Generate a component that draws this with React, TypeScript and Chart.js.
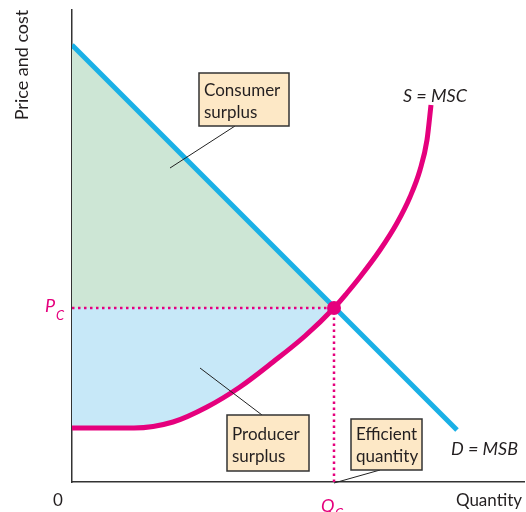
import React, { useEffect, useRef } from "react";
import { Chart, registerables } from "chart.js";

Chart.register(...registerables);

// Axis ranges (arbitrary units: quantity and price/cost)
const X_MAX = 452;
const Y_MAX = 472;

// Demand = marginal social benefit
const DEMAND_Q = [0, 385];
const DEMAND_P = [437, 52];

// Supply = marginal social cost
const SUPPLY_Q = [0, 62, 101, 135, 168, 201, 233, 262, 275, 288, 308, 325, 338, 348, 355, 359];
const SUPPLY_P = [54, 54, 60, 75, 95, 120, 146, 174, 189, 205, 232, 259, 285, 312, 342, 377];

// Equilibrium
const EQ_Q = 262;
const EQ_P = 174;

const MAGENTA = "#e5007d";
const CYAN = "#1ab0e6";
const TEXT = "#231f20";
const BOX_FILL = "#fde8c6";
const FONT = "Lato, 'Open Sans', sans-serif";

const pts = (xs: number[], ys: number[]) => xs.map((x, i) => ({ x, y: ys[i] }));

const supplyPts = pts(SUPPLY_Q, SUPPLY_P);
const demandPts = pts(DEMAND_Q, DEMAND_P);
const producerPts = supplyPts.filter((p) => p.x <= EQ_Q);
const consumerPts = demandPts
  .filter((p) => p.x <= EQ_Q)
  .concat([{ x: EQ_Q, y: EQ_P }]);

const annotate = {
  id: "annotate",
  afterDraw(chart: any) {
    const ctx = chart.ctx as CanvasRenderingContext2D;
    const xs = chart.scales.x;
    const ys = chart.scales.y;
    ctx.save();
    ctx.textBaseline = "alphabetic";

    const box = (x0: number, y0: number, x1: number, y1: number, lines: string[], tx: number, bases: number[]) => {
      ctx.fillStyle = BOX_FILL;
      ctx.fillRect(x0, y0, x1 - x0, y1 - y0);
      ctx.strokeStyle = "#333";
      ctx.lineWidth = 1.5;
      ctx.strokeRect(x0, y0, x1 - x0, y1 - y0);
      ctx.fillStyle = TEXT;
      ctx.font = `17px ${FONT}`;
      ctx.textAlign = "left";
      lines.forEach((l, i) => ctx.fillText(l, tx, bases[i]));
    };
    const leader = (a: number, b: number, c: number, d: number) => {
      ctx.strokeStyle = "#222";
      ctx.lineWidth = 1;
      ctx.beginPath();
      ctx.moveTo(a, b);
      ctx.lineTo(c, d);
      ctx.stroke();
    };

    leader(235, 126, 170, 168);
    leader(262, 415, 200, 368);
    leader(380, 470, 334, 483);
    box(199, 73, 289, 126, ["Consumer", "surplus"], 204, [96, 118]);
    box(227, 415, 309, 471, ["Producer", "surplus"], 232, [440, 462]);
    box(351, 419, 422, 470, ["Efficient", "quantity"], 356, [440, 462]);

    // Axis titles
    ctx.fillStyle = TEXT;
    ctx.font = `18px ${FONT}`;
    ctx.save();
    ctx.translate(28, 65);
    ctx.rotate(-Math.PI / 2);
    ctx.textAlign = "center";
    ctx.fillText("Price and cost", 0, 0);
    ctx.restore();

    ctx.textAlign = "center";
    ctx.font = `17px ${FONT}`;
    ctx.fillText("0", 58, 506);
    ctx.textAlign = "right";
    ctx.fillText("Quantity", 522, 506);

    // Curve labels
    ctx.textAlign = "left";
    ctx.font = `italic 18px ${FONT}`;
    ctx.fillText("S = MSC", 403, 102);
    ctx.fillText("D = MSB", 451, 455);

    // P_C and Q_C
    ctx.fillStyle = MAGENTA;
    const py = ys.getPixelForValue(EQ_P);
    ctx.font = `italic 18px ${FONT}`;
    ctx.fillText("P", 45, py + 4);
    ctx.font = `italic 13px ${FONT}`;
    ctx.fillText("C", 56, py + 12);
    const qx = xs.getPixelForValue(EQ_Q);
    ctx.font = `italic 18px ${FONT}`;
    ctx.fillText("Q", qx - 13, 512);
    ctx.font = `italic 13px ${FONT}`;
    ctx.fillText("C", qx + 1, 518);
    ctx.restore();
  },
};

export default function App() {
  const ref = useRef<HTMLCanvasElement | null>(null);
  useEffect(() => {
    if (!ref.current) return;
    const chart = new Chart(ref.current, {
      type: "line",
      data: {
        datasets: [
          {
            label: "Equilibrium",
            data: [{ x: EQ_Q, y: EQ_P }],
            showLine: false,
            pointRadius: 7,
            pointBackgroundColor: MAGENTA,
            pointBorderWidth: 0,
          },
          {
            label: "S = MSC",
            data: supplyPts,
            borderColor: MAGENTA,
            borderWidth: 5,
            pointRadius: 0,
            cubicInterpolationMode: "monotone",
            fill: false,
          },
          {
            label: "D = MSB",
            data: demandPts,
            borderColor: CYAN,
            borderWidth: 5,
            pointRadius: 0,
            fill: false,
          },
          {
            label: "Pc",
            data: [{ x: 0, y: EQ_P }, { x: EQ_Q, y: EQ_P }],
            borderColor: MAGENTA,
            borderWidth: 2.5,
            borderDash: [2.5, 3.5],
            pointRadius: 0,
            fill: false,
          },
          {
            label: "Qc",
            data: [{ x: EQ_Q, y: 0 }, { x: EQ_Q, y: EQ_P }],
            borderColor: MAGENTA,
            borderWidth: 2.5,
            borderDash: [2.5, 3.5],
            pointRadius: 0,
            fill: false,
          },
          {
            label: "Consumer surplus",
            data: consumerPts,
            borderWidth: 0,
            pointRadius: 0,
            backgroundColor: "#cde6d5",
            fill: { value: EQ_P },
          },
          {
            label: "Producer surplus",
            data: producerPts,
            borderWidth: 0,
            pointRadius: 0,
            cubicInterpolationMode: "monotone",
            backgroundColor: "#c7e8f8",
            fill: { value: EQ_P },
          },
        ],
      },
      options: {
        animation: false,
        responsive: false,
        parsing: false as any,
        layout: { autoPadding: false, padding: { left: 72, top: 10, right: 2, bottom: 30 } },
        plugins: { legend: { display: false }, tooltip: { enabled: false } },
        scales: {
          x: {
            type: "linear",
            min: 0,
            max: X_MAX,
            grid: { display: false, drawTicks: false },
            ticks: { display: false },
            border: { display: true, color: "#333", width: 1.5 },
            afterFit: (s: any) => {
              s.height = 0;
            },
          },
          y: {
            type: "linear",
            min: 0,
            max: Y_MAX,
            grid: { display: false, drawTicks: false },
            ticks: { display: false },
            border: { display: true, color: "#333", width: 1.5 },
            afterFit: (s: any) => {
              s.width = 0;
            },
          },
        },
      },
      plugins: [annotate],
    });
    return () => chart.destroy();
  }, []);
  return (
    <div style={{ position: "fixed", left: 0, top: 0, width: 526, height: 512, background: "#fff" }}>
      <canvas ref={ref} width={526} height={512} style={{ display: "block" }} />
    </div>
  );
}
